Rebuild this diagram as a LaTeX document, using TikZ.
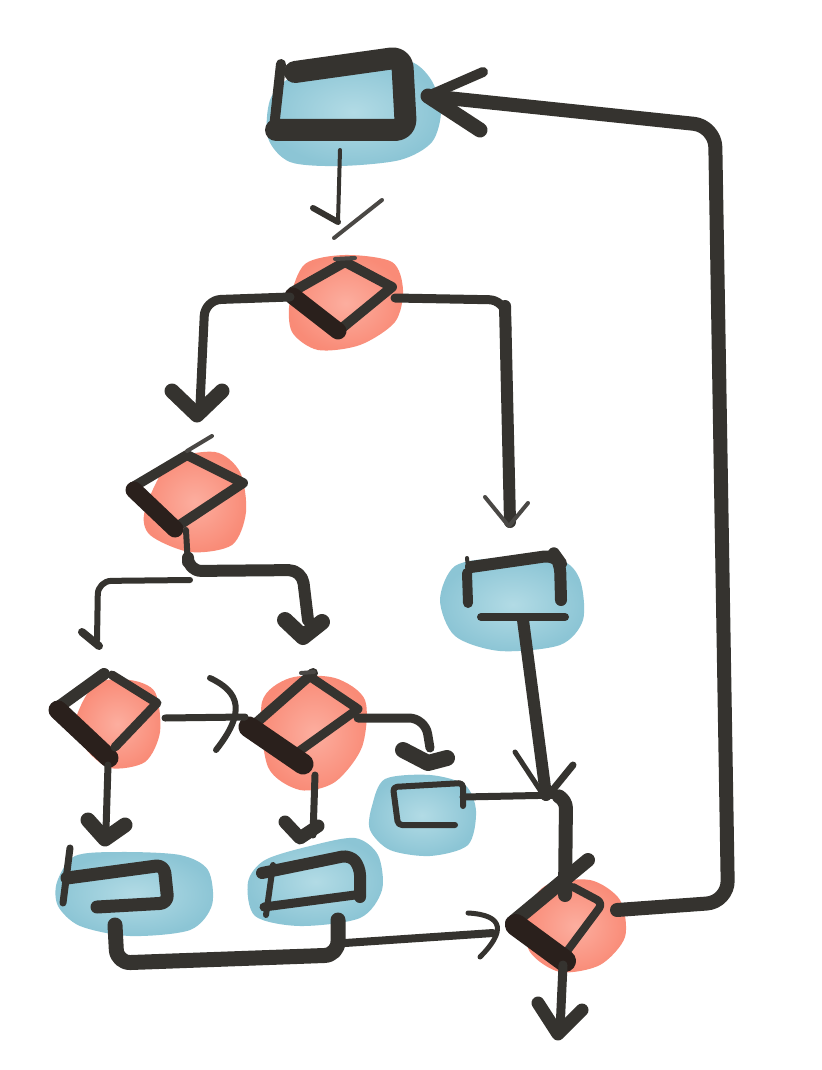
\documentclass[tikz,border=0pt]{standalone}
\definecolor{inkc}{HTML}{35332F}
\definecolor{inkd}{HTML}{2A201C}
\definecolor{inkg}{HTML}{4A4845}
\definecolor{bluein}{HTML}{B2DBE5}
\definecolor{blueout}{HTML}{8CC5D5}
\definecolor{redin}{HTML}{FCAE9F}
\definecolor{redout}{HTML}{F98B77}
\tikzset{
  lw/.style={line width=#1*0.75pt},
  ink/.style={draw=inkc, line cap=round, line join=round},
  inkdark/.style={draw=inkd, line cap=round, line join=round},
  thin/.style={draw=inkg, line cap=round, line join=round, lw=4},
  blueblob/.style={inner color=bluein, outer color=blueout},
  redblob/.style={inner color=redin, outer color=redout},
}
\begin{document}
\begin{tikzpicture}[x=0.75pt,y=-0.75pt]
\useasboundingbox (0,0) rectangle (821,1070);
\fill[white] (0,0) rectangle (821,1070);

% ---------- blobs ----------
\shade[blueblob] plot[smooth cycle] coordinates {(270,100) (290,78) (340,64) (405,60) (430,78) (441,110) (432,142) (400,160) (340,166) (290,162) (268,138)};
\shade[redblob] plot[smooth cycle] coordinates {(290,300) (305,264) (345,255) (392,262) (403,290) (395,322) (360,345) (318,350) (292,332)};
\shade[redblob] plot[smooth cycle] coordinates {(145,510) (170,462) (215,452) (240,472) (246,512) (232,545) (190,552) (150,535)};
\shade[redblob] plot[smooth cycle] coordinates {(75,722) (95,684) (130,680) (155,692) (160,732) (145,762) (110,768) (85,748)};
\shade[redblob] plot[smooth cycle] coordinates {(262,702) (290,678) (335,678) (365,700) (362,747) (335,782) (300,790) (268,767)};
\shade[redblob] plot[smooth cycle] coordinates {(525,917) (545,886) (590,880) (620,900) (625,937) (600,965) (560,972) (530,952)};
\shade[blueblob] plot[smooth cycle] coordinates {(440,600) (455,566) (500,558) (560,560) (580,580) (583,620) (560,645) (500,651) (455,636)};
\shade[blueblob] plot[smooth cycle] coordinates {(372,806) (385,779) (430,775) (465,785) (476,811) (468,845) (430,856) (390,850) (370,830)};
\shade[blueblob] plot[smooth cycle] coordinates {(57,882) (75,856) (120,852) (180,855) (208,870) (212,905) (190,930) (130,936) (80,926) (58,906)};
\shade[blueblob] plot[smooth cycle] coordinates {(248,882) (265,860) (310,846) (355,838) (378,855) (382,890) (360,918) (300,926) (255,916)};

% ---------- named anchor points ----------
\coordinate (T-s) at (340,150);
\coordinate (T-e) at (428,96);
\coordinate (D1-n) at (338,222);
\coordinate (D1-w) at (290,297);
\coordinate (D1-e) at (395,298);
\coordinate (D2-n) at (200,405);
\coordinate (R-n) at (510,522);
\coordinate (D2-s) at (186,530);
\coordinate (D3-n) at (97,640);
\coordinate (D4-n) at (308,620);
\coordinate (D3-e) at (165,718);
\coordinate (D4-w) at (245,717);
\coordinate (D3-s) at (108,765);
\coordinate (BL-n) at (106,830);
\coordinate (D4-s) at (315,775);
\coordinate (BM-n) at (313,835);
\coordinate (D4-e) at (358,718);
\coordinate (S-n) at (430,748);
\coordinate (S-e) at (463,797);
\coordinate (R-s) at (523,620);
\coordinate (D5-n1) at (546,795);
\coordinate (D5-n) at (565,895);
\coordinate (BL-s) at (115,925);
\coordinate (BM-s) at (338,920);
\coordinate (J) at (345,943);
\coordinate (D5-w) at (493,933);
\coordinate (D5-s) at (563,965);
\coordinate (X) at (560,1030);
\coordinate (D5-e) at (617,910);

% ---------- boxes ----------
% top box T
\draw[ink,lw=22,rounded corners=8] (295,72) -- (402,57) -- (406,130) -- (276,130);
\draw[ink,lw=10] (281,64) -- (274,128);
% right box R
\draw[ink,lw=4] (467,558) -- (468,568);
\draw[ink,lw=10] (467,573) -- (468,603);
\draw[ink,lw=12,rounded corners=8] (471,567) -- (555,555) -- (560,562) -- (561,600);
\draw[ink,lw=8] (481,617) -- (565,617);
% small box S
\draw[ink,lw=6,rounded corners=3] (455,825) -- (398,825) -- (393,787) -- (463,783) -- (463,806);
% bottom-left box BL
\draw[ink,lw=13,rounded corners=6] (97,907) -- (168,903) -- (164,865) -- (67,878);
\draw[ink,lw=7] (70,848) -- (63,903);
% bottom-middle box BM
\draw[ink,lw=12,rounded corners=6] (262,873) -- (350,855) -- (360,867) -- (360,897);
\draw[ink,lw=9] (355,895) -- (264,907);
\draw[ink,lw=6] (273,865) -- (266,915);

% ---------- diamonds ----------
% D1
\draw[ink,lw=10] (292,292) -- (345,262) -- (392,287) -- (342,328);
\draw[inkdark,lw=17] (293,296) -- (338,331);
\draw[thin] (335,259) -- (355,258);
% D2
\draw[ink,lw=10] (133,487) -- (187,455) -- (243,483) -- (178,526);
\draw[inkdark,lw=17] (134,490) -- (175,529);
\draw[thin] (187,451) -- (212,436);
% D3
\draw[ink,lw=12] (104,674) -- (57,708);
\draw[inkdark,lw=19] (58,710) -- (109,758);
\draw[ink,lw=9] (112,675) -- (157,703) -- (115,747);
% D4
\draw[ink,lw=10] (256,723) -- (313,673);
\draw[ink,lw=9] (312,678) -- (358,709) -- (298,752);
\draw[inkdark,lw=21] (249,727) -- (303,764);
\draw[thin] (301,673) -- (314,672);
% D5
\draw[ink,lw=14] (588,860) -- (512,923);
\draw[ink,lw=8,rounded corners=5] (573,887) -- (603,903) -- (562,958);
\draw[inkdark,lw=22] (516,925) -- (565,961);

% ---------- connectors ----------
% T -> D1
\draw[ink,lw=4] (T-s) -- (D1-n);
\draw[ink,lw=6] (313,208) -- (D1-n);
\draw[thin] (334,238) -- (382,200);
% D1 -> D2
\draw[ink,lw=9,rounded corners=12] (D1-w) -- (205,300) -- (D2-n);
\draw[ink,lw=15] (172,391) -- (197,415) -- (222,391);
% D1 -> R
\draw[ink,lw=9,rounded corners=12] (D1-e) -- (505,300) -- (507,330);
\draw[ink,lw=12] (505,306) -- (R-n);
\draw[thin] (485,497) -- (507,524);
\draw[thin] (528,503) -- (509,526);
% D2 -> D4
\draw[ink,lw=6] (D2-s) -- (188,566);
\draw[ink,lw=12,rounded corners=10] (188,562) -- (188,571) -- (302,570) -- (D4-n);
\draw[ink,lw=16] (285,620) -- (303,637) -- (322,622);
% D2 -> D3
\draw[ink,lw=6,rounded corners=10] (190,580) -- (98,581) -- (D3-n);
\draw[ink,lw=8] (82,632) -- (99,646);
% D3 -> D4
\draw[ink,lw=7] (D3-e) -- (D4-w);
\draw[ink,lw=6] (210,678) .. controls (240,692) and (246,712) .. (216,750);
% D3 -> BL
\draw[ink,lw=7] (D3-s) -- (BL-n);
\draw[ink,lw=15] (88,820) -- (105,839) -- (125,825);
% D4 -> BM
\draw[ink,lw=7] (D4-s) -- (BM-n);
\draw[ink,lw=13] (285,822) -- (300,838) -- (318,826);
% D4 -> S
\draw[ink,lw=9,rounded corners=12] (D4-e) -- (425,718) -- (S-n);
\draw[ink,lw=16] (403,750) -- (428,763) -- (447,758);
% R -> D5
\draw[ink,lw=12] (R-s) -- (D5-n1);
\draw[ink,lw=5] (515,752) -- (542,793);
\draw[ink,lw=7] (573,765) -- (547,797);
% S -> D5
\draw[ink,lw=7,rounded corners=8] (S-e) -- (562,795) -- (565,810);
\draw[ink,lw=14,rounded corners=6] (560,797) -- (566,800) -- (D5-n);
% BL, BM -> D5
\draw[ink,lw=15,rounded corners=10] (BL-s) -- (117,963) -- (338,955) -- (BM-s);
\draw[ink,lw=8] (J) -- (D5-w);
\draw[ink,lw=5] (468,913) .. controls (505,915) and (505,932) .. (480,957);
% D5 -> exit
\draw[ink,lw=9] (D5-s) -- (X);
\draw[ink,lw=13] (538,1003) -- (558,1034) -- (582,1010);
% D5 -> T (loop)
\draw[ink,lw=14,rounded corners=16] (D5-e) -- (728,902) -- (715,126) -- (T-e);
\draw[ink,lw=10] (483,72) -- (T-e);
\draw[ink,lw=15] (480,130) -- (T-e);
\end{tikzpicture}
\end{document}
